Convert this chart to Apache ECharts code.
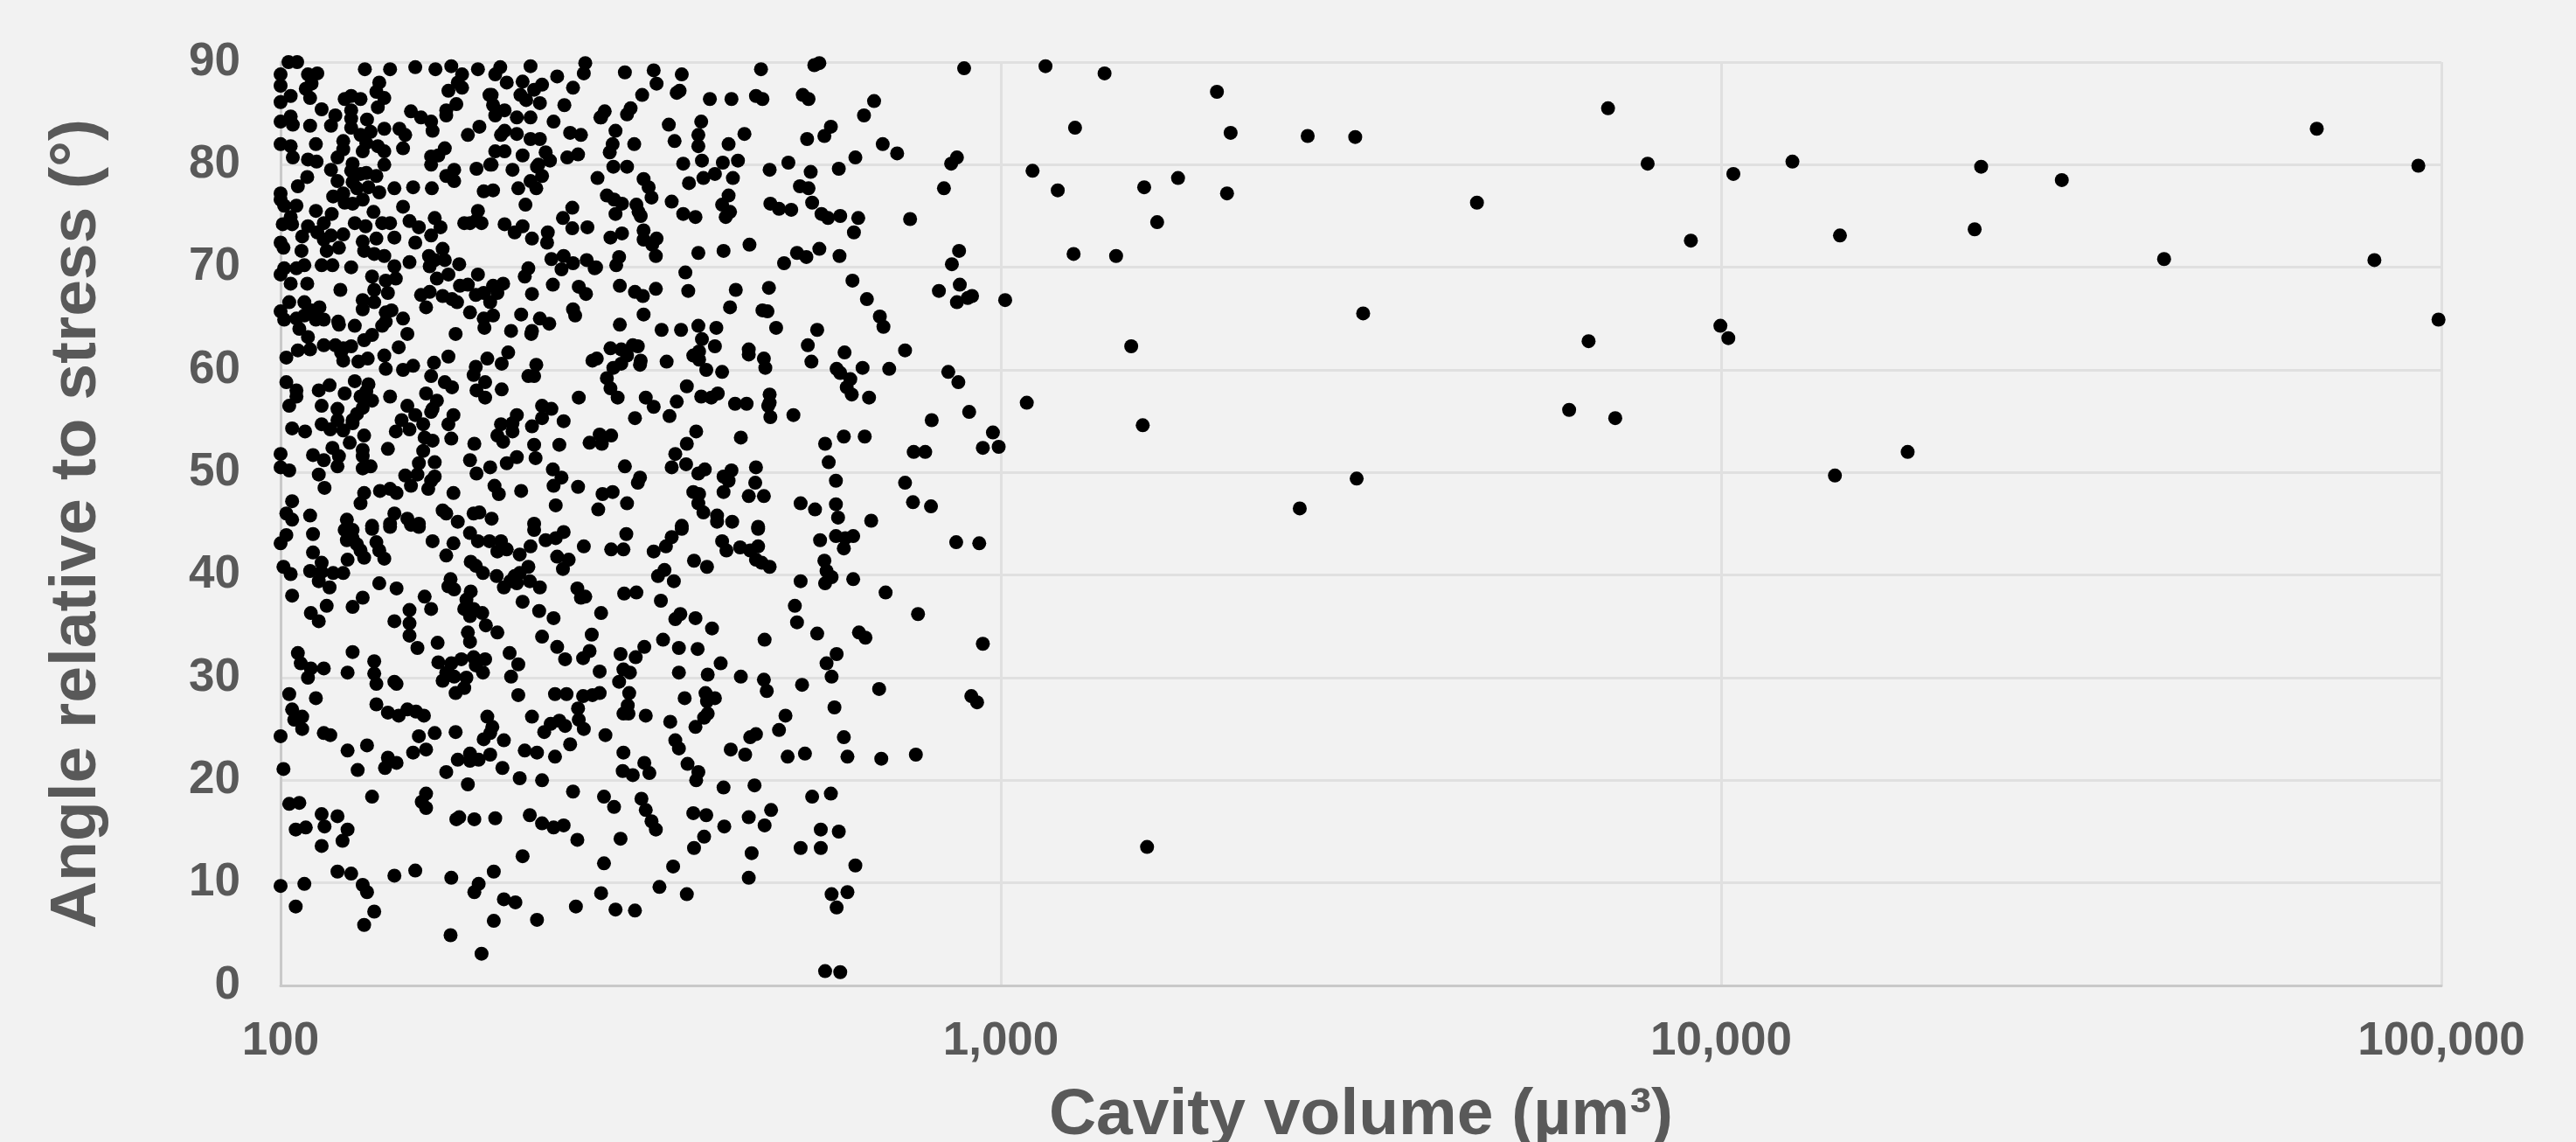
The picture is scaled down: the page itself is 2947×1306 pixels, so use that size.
<!DOCTYPE html>
<html><head><meta charset="utf-8">
<style>html,body{margin:0;padding:0;background:#f2f2f2}#c{width:2947px;height:1306px}</style>
<script src="https://cdn.jsdelivr.net/npm/echarts@6/dist/echarts.min.js"></script>
</head><body><div id="c"></div>
<script>
// Tick labels
const volumeTicks = [100, 1000, 10000, 100000];
const angleTicks = [0, 10, 20, 30, 40, 50, 60, 70, 80, 90];
// Cavities: [log10(volume in µm³), angle in degrees]
const angle80to90 = [[2.011,90],[2.023,90],[2,88.8],[2,87.7],[2.038,88.8],[2.051,88.9],[2.043,87.9],[2.117,89.3],[2.152,89.3],[2.187,89.5],[2.215,89.3],[2.237,89.6],[2.252,88.8],[2.274,89.3],[2.305,89.5],[2.298,88.8],[2.314,88],[2.336,88.1],[2.347,89.6],[2.384,88.6],[2.423,89.9],[2.421,88.9],[2.406,87.5],[2.137,88],[2.246,88],[2.252,87.5],[2.233,87.2],[2.363,87.8],[2.293,86.8],[2.352,87.3],[2.333,86.8],[2.341,86.3],[2.36,86],[2,86.1],[2.014,86.7],[2,84.2],[2.014,84.7],[2.017,83.9],[2.041,86.5],[2.035,87.4],[2.057,85.4],[2.076,84.8],[2.07,83.8],[2.041,83.8],[2.089,86.4],[2.098,86.7],[2.111,86.4],[2.098,85.3],[2.098,84.5],[2.098,83.6],[2.12,84.4],[2.144,83.5],[2.133,87.1],[2.144,86.5],[2.135,85.6],[2.181,85.2],[2.195,84.6],[2.209,84.2],[2.211,83.3],[2.23,84.8],[2.244,85.9],[2.23,85.3],[2.165,83.5],[2.173,82.9],[2.17,81.6],[2.26,82.9],[2.276,83.7],[2.29,86.8],[2.295,85.8],[2.298,84.8],[2.311,85.3],[2.328,84.6],[2.347,84.6],[2.379,84.2],[2.394,85.8],[2.444,84.6],[2.45,85.2],[2.306,82.9],[2.311,83.3],[2.328,83],[2.347,82.5],[2.36,82.5],[2.402,83.1],[2.417,82.9],[2,82],[2.014,81.8],[2.017,80.7],[2.049,82],[2.038,80.5],[2.05,80.3],[2.087,82.3],[2.087,81.5],[2.079,80.7],[2.111,82.9],[2.119,82.1],[2.114,81.3],[2.135,81.8],[2.144,81.3],[2.1,80.1],[2.125,83.2],[2.209,80.8],[2.228,81.6],[2.219,80.9],[2.298,81.3],[2.311,81.3],[2.336,80.9],[2.368,81.2],[2.374,80.4],[2.398,80.7],[2.413,81],[2.209,80],[2.293,80],[2.358,80],
[2.478,89],[2.518,89.2],[2.557,88.8],[2.522,87.9],[2.667,89.3],[2.741,89.7],[2.748,89.9],[2.949,89.4],[2.502,86.8],[2.55,87],[2.554,87.2],[2.596,86.4],[2.626,86.4],[2.66,86.7],[2.669,86.4],[2.725,86.8],[2.733,86.4],[2.824,86.2],[2.81,84.8],[2.445,84.6],[2.486,85.5],[2.481,84.9],[2.539,83.9],[2.584,84.2],[2.764,83.7],[2.755,82.8],[2.731,82.5],[2.465,83.3],[2.58,82.9],[2.58,81.8],[2.547,82.3],[2.644,83],[2.622,82],[2.461,82],[2.457,81.2],[2.491,82],[2.836,82],[2.856,81.1],[2.798,80.7],[2.939,80.7],[2.931,80.1],[2.559,80.1],[2.585,80.4],[2.614,80.2],[2.635,80.4],[2.705,80.2]];
const angle70to80 = [[2.462,79.8],[2.481,79.8],[2.679,79.5],[2.736,79.3],[2.775,79.6],[2.44,78.7],[2.504,78.6],[2.511,77.8],[2.515,76.8],[2.567,78.2],[2.587,78.7],[2.603,79.1],[2.628,78.7],[2.721,77.9],[2.733,77.7],[2.921,77.7],[2.453,77],[2.463,76.6],[2.474,76.2],[2.465,75.2],[2.494,76.1],[2.497,75.4],[2.5,75],[2.543,76.4],[2.559,75.2],[2.576,74.9],[2.622,77],[2.613,76.1],[2.624,75.4],[2.618,74.9],[2.68,76.2],[2.692,75.7],[2.709,75.6],[2.738,76.3],[2.751,75.2],[2.76,74.8],[2.777,75],[2.802,74.8],[2.874,74.7],[2.796,73.4],[2.504,73.6],[2.504,72.7],[2.522,72.8],[2.516,72.2],[2.521,71.1],[2.458,72.9],[2.474,73.3],[2.47,71],[2.466,70.2],[2.58,71.4],[2.615,71.6],[2.651,72.2],[2.717,71.4],[2.73,71],[2.748,71.8],[2.776,71.1],[2.699,70.4],[2.942,71.6],[2.932,70.3],[2.438,70],
[2.037,78.8],[2.024,77.9],[2,77.2],[2,76.6],[2.005,76],[2.022,76],[2.049,75.5],[2.071,75.2],[2.079,78.4],[2.073,76.9],[2.087,77.2],[2.089,76.3],[2.1,76.2],[2.114,76.6],[2.122,77.8],[2.133,78.9],[2.119,79.2],[2.098,79.4],[2.111,79.1],[2.144,80],[2.1,78.3],[2.106,77.7],[2.07,79.5],[2.137,77.3],[2.158,77.7],[2.184,77.8],[2.21,77.7],[2.17,75.9],[2.129,75.4],[2.241,79.5],[2.23,78.9],[2.241,78.4],[2.272,79.6],[2.291,80],[2.322,79.5],[2.33,77.7],[2.347,78.4],[2.355,77.7],[2.363,78.9],[2.356,79.8],[2.282,77.4],[2.295,77.5],[2.34,76.1],[2.405,75.8],[2.392,74.8],[2.405,73.8],[2.426,73.9],[2.274,75.5],[2.263,74.3],[2.255,74.3],[2.279,74.3],[2.272,74.6],[2.311,74.2],[2.325,73.4],[2.336,74],[2.349,72.8],[2.371,73.4],[2.37,72.4],[2.214,74.8],[2.222,73.9],[2.179,74.5],[2.192,73.9],[2.141,74.3],[2.152,74.3],[2.103,74.3],[2.118,74],[2.003,74.2],[2.016,74.2],[2.038,74],[2.06,74.3],[2.014,74.9],[2.051,73.4],[2.03,73],[2.07,73.1],[2.087,73.2],[2.06,72.7],[2.081,71.9],[2.064,71.6],[2.158,72.9],[2.187,72.4],[2.209,73.1],[2.114,72.5],[2.133,72.8],[2.116,71.6],[2.13,71.3],[2.144,71.1],[2,72.4],[2.004,71.9],[2.029,71.6],[2.225,71.8],[2.206,71.1],[2.214,70.7],[2.228,70.7],[2.207,70.1],[2.179,70.5],[2.248,70.3],[2.376,70.8],[2.393,71.1],[2.406,70.4],[2.39,69.8],[2.425,70.7],[2.436,69.9],[2.033,70.2],[2.022,69.9],[2.005,69.9],[2,69.3],[2.057,70.2],[2.072,70.2],[2.098,70],[2.158,70.1],[2.344,69.9],[2.339,69.1],[2.274,69.3]];
const angle60to70 = [[2.562,69.5],[2.471,68.2],[2.492,67.6],[2.503,67.2],[2.521,67.9],[2.566,67.7],[2.632,67.8],[2.678,68],[2.794,68.7],[2.814,66.9],[2.943,68.3],[2.914,67.7],[2.939,66.6],[2.954,67],[2.96,67.2],[2.624,66.1],[2.669,65.8],[2.676,65.7],[2.504,65.4],[2.832,65.2],[2.837,64.2],[2.471,64.4],[2.529,63.9],[2.556,63.9],[2.58,64.3],[2.605,64.1],[2.688,64.1],[2.745,63.9],[2.585,63],[2.603,62.3],[2.65,62],[2.65,61.5],[2.458,62.1],[2.473,62],[2.489,62.4],[2.496,62.3],[2.481,61.4],[2.732,62.4],[2.783,61.7],[2.867,61.9],[2.581,61.8],[2.573,61.4],[2.581,61],[2.439,61.1],[2.5,60.9],[2.499,60.5],[2.536,60.8],[2.671,61.1],[2.673,60.2],[2.737,60.8],[2.473,60.6],[2.462,60.2],[2.772,60.1],[2.808,60.2],[2.845,60.1],[2.591,60],
[2.014,68.4],[2.037,68.4],[2.127,69.1],[2.146,68.7],[2.16,68.9],[2.13,67.8],[2.149,67.5],[2.083,67.8],[2.217,68.9],[2.233,69.3],[2.249,68.2],[2.26,68.3],[2.271,67.3],[2.282,67.5],[2.295,68.2],[2.309,68.4],[2.301,67.5],[2.291,66.6],[2.378,68.3],[2.414,68.1],[2.424,67.4],[2.349,67.4],[2.195,67.3],[2.207,67.6],[2.202,66.1],[2.225,67.2],[2.238,66.9],[2.245,66.6],[2.012,66.6],[2.033,66.6],[2.043,65.8],[2.054,66.1],[2.114,66.8],[2.13,66.6],[2.114,65.9],[2,65.7],[2.005,64.9],[2.022,65],[2.033,65.3],[2.049,64.9],[2.06,64.9],[2.026,64],[2.038,63.2],[2.08,64.7],[2.081,64.4],[2.103,64.3],[2.146,65.6],[2.154,65.8],[2.146,64.7],[2.141,64.3],[2.17,65],[2.176,63.5],[2.263,65.6],[2.295,65.3],[2.282,65],[2.283,64.1],[2.334,65.4],[2.36,65],[2.373,64.5],[2.406,65.9],[2.409,65.3],[2.243,63.5],[2.32,63.8],[2.349,63.8],[2.348,63.5],[2.116,62.9],[2.127,63.4],[2.06,62.4],[2.076,62.4],[2.098,62.3],[2.087,62.1],[2.084,61.7],[2.087,60.9],[2.024,61.9],[2.041,62],[2.008,61.2],[2.164,62.2],[2.233,61.3],[2.144,61.4],[2.146,60.1],[2.108,60.8],[2.121,61.1],[2.316,61.7],[2.307,60.6],[2.287,61.1],[2.213,60.7],[2.355,60.5],[2.271,60.3],[2.184,60.4],[2.17,60],[2.433,60.9]];
const angle50to60 = [[2.777,59.7],[2.613,59.8],[2.927,59.8],[2.941,58.8],[2.453,59.2],[2.458,58.2],[2.468,57.3],[2.564,58.4],[2.791,59.1],[2.786,58.3],[2.793,57.6],[2.817,57.3],[2.507,57.3],[2.518,56.4],[2.55,56.9],[2.584,57.4],[2.598,57.3],[2.607,57.7],[2.631,56.7],[2.647,56.7],[2.679,57.6],[2.679,56.8],[2.677,56.5],[2.68,55.4],[2.712,55.6],[2.492,55.3],[2.54,55.5],[2.904,55.1],[2.956,55.9],[2.577,54],[2.564,52.8],[2.639,53.4],[2.782,53.5],[2.811,53.5],[2.756,52.8],[2.989,53.9],[2.975,52.4],[2.997,52.5],[2.879,52],[2.895,52],[2.459,53.6],[2.443,53.7],[2.446,52.8],[2.548,51.8],[2.543,50.5],[2.563,50.8],[2.761,51],[2.478,50.6],[2.66,50.5],[2.589,50.3],[2.626,50.2],
[2.268,59.5],[2.344,59.4],[2.352,59.4],[2.008,58.8],[2.022,58],[2.022,57.4],[2.068,58.5],[2.053,58],[2.089,57.7],[2.103,58.9],[2.122,58.6],[2.119,57.9],[2.111,57.4],[2.127,57],[2.114,56.3],[2.106,55.7],[2.1,55.1],[2.152,57.4],[2.202,57.7],[2.209,59.4],[2.228,58.8],[2.238,58.3],[2.272,58],[2.284,58.8],[2.284,57.3],[2.307,58.1],[2.414,57.3],[2.012,56.5],[2.057,56.5],[2.079,56.2],[2.176,56.5],[2.217,57],[2.211,56.2],[2.209,55.9],[2.363,56.5],[2.376,56.2],[2.363,55.3],[2.349,54.5],[2.328,55.6],[2.322,54.8],[2.306,54.7],[2.322,54],[2.309,53],[2.301,53.6],[2.393,55],[2.24,55.6],[2.233,54.7],[2.168,55.1],[2.16,54],[2.179,54.2],[2.187,55.6],[2.198,54.7],[2.2,53.4],[2.211,53.1],[2.016,54.3],[2.034,54],[2.057,54.7],[2.069,54.2],[2.087,54.1],[2.079,55.1],[2.1,54.8],[2.116,53.6],[2.096,52.9],[2.237,53.3],[2.269,52.8],[2.429,52.9],[2.352,52.7],[2.387,52.7],[2.072,52.4],[2.114,52.2],[2.114,51.6],[2.149,52.3],[2.198,52.1],[2.045,51.7],[2.06,51.2],[2.081,51.6],[2.079,50.6],[2,51.8],[2,50.5],[2.012,50.2],[2.114,50.4],[2.125,50.6],[2.192,50.9],[2.214,51],[2.263,51.2],[2.291,50.5],[2.314,50.9],[2.328,51.5],[2.354,51.4],[2.378,50.3]];
const angle40to50 = [[2.58,49.9],[2.615,49.6],[2.622,49.2],[2.499,49.5],[2.496,49],[2.771,49.2],[2.659,49],[2.867,49],[2.573,48.1],[2.581,47.9],[2.615,48.1],[2.65,47.7],[2.671,47.7],[2.447,47.9],[2.461,48.1],[2.481,47],[2.441,46.4],[2.58,47],[2.587,46.1],[2.722,47],[2.742,46.4],[2.771,46.9],[2.878,47.1],[2.903,46.7],[2.606,45.8],[2.627,45.2],[2.606,45.2],[2.774,45.6],[2.82,45.3],[2.557,44.8],[2.663,44.7],
[2.39,49.5],[2.379,48.7],[2.053,49.8],[2.061,48.5],[2.272,49.9],[2.173,49.7],[2.19,49.8],[2.214,49.6],[2.209,49.2],[2.205,48.4],[2.181,48.7],[2.297,48.7],[2.303,47.9],[2.334,48.2],[2.413,48.6],[2.116,48],[2.111,47],[2.138,48.2],[2.152,48.4],[2.161,48],[2.24,48],[2.016,47.2],[2.008,46],[2.016,45.4],[2.041,45.8],[2.382,46.8],[2.225,46.3],[2.23,46],[2.268,46],[2.276,46.1],[2.293,45.5],[2.246,45.2],[2.158,46],[2.176,45.5],[2.192,45],[2.092,45.4],[2.152,45],[2.127,44.8],[2.352,45],
[2.48,44],[2.459,42.5],[2.476,42.5],[2.518,42.3],[2.535,42.8],[2.543,43.7],[2.557,44.5],[2.613,43.3],[2.619,42.4],[2.638,42.7],[2.652,42.4],[2.663,42.8],[2.663,44.5],[2.749,43.4],[2.771,43.8],[2.784,43.6],[2.795,43.8],[2.782,42.6],[2.938,43.2],[2.97,43.1],[2.574,41.4],[2.592,40.8],[2.66,41.5],[2.668,41.2],[2.679,40.8],[2.755,41.4],[2.758,40.4],[2.533,40.5],
[2,43.1],[2.008,43.9],[2.045,44],[2.045,42.2],[2.089,44.4],[2.1,44.4],[2.092,43.4],[2.1,43.6],[2.106,43],[2.111,42.4],[2.116,41.7],[2.093,41.5],[2.127,44.5],[2.133,43.2],[2.137,42.4],[2.144,41.6],[2.152,44.7],[2.181,44.9],[2.192,44.7],[2.211,43.3],[2.24,43.1],[2.23,41.9],[2.263,44.1],[2.274,43.3],[2.29,43.3],[2.306,43.3],[2.301,42.3],[2.314,42.5],[2.332,42],[2.347,42.8],[2.352,44.4],[2.368,43.4],[2.382,43.6],[2.393,44.2],[2.421,42.8],[2.384,41.8],[2.4,41.5],[2.392,40.6],[2.264,41.3],[2.271,40.9],[2.281,40.2],[2.344,40.8],[2.332,40.2],[2.004,40.8],[2.014,40.1],[2.041,40.4],[2.057,41.2],[2.057,40.3],[2.073,40.2],[2.087,40.2]];
const angle30to40 = [[2.765,39.8],[2.756,39.2],[2.524,39.9],[2.546,39.4],[2.722,39.4],[2.795,39.6],[2.477,38.2],[2.494,38.3],[2.84,38.3],[2.528,37.5],[2.714,37],[2.717,35.4],[2.745,34.3],[2.885,36.2],[2.445,36.3],[2.555,36.2],[2.548,35.7],[2.576,35.8],[2.599,34.8],[2.803,34.4],[2.812,33.9],[2.672,33.7],[2.531,33.7],[2.553,32.9],[2.579,32.8],[2.975,33.3],[2.505,33],[2.493,32],[2.472,32.3],[2.772,32.3],[2.758,31.4],[2.611,31.4],[2.476,30.8],[2.485,30.5],[2.443,30.6],[2.553,30.5],[2.593,30.3],[2.639,30.1],[2.765,30.1],
[2.3,39.9],[2.325,39.9],[2.346,39.4],[2.36,38.8],[2.31,38.8],[2.319,39.4],[2.328,39.2],[2.053,39.4],[2.068,38.8],[2.016,38],[2.137,39.2],[2.161,38.7],[2.114,37.8],[2.1,36.9],[2.064,37],[2.236,39.6],[2.233,38.9],[2.241,38.6],[2.264,38.4],[2.2,37.9],[2.209,36.7],[2.258,37.6],[2.255,36.7],[2.268,36.7],[2.263,36],[2.28,36.3],[2.285,35.1],[2.412,38.7],[2.417,37.8],[2.423,37.9],[2.336,37.4],[2.359,36.5],[2.379,35.8],[2.042,36.3],[2.053,35.5],[2.158,35.5],[2.179,36.6],[2.179,35.3],[2.179,34.1],[2.19,32.9],[2.218,33.4],[2.26,34.4],[2.263,33.5],[2.301,34.4],[2.363,34],[2.384,33],[2.395,31.8],[2.432,34.2],[2.429,32.6],[2.42,31.9],[2.024,32.4],[2.028,31.4],[2.042,30.9],[2.038,30],[2.06,30.9],[2.1,32.5],[2.093,30.5],[2.13,31.6],[2.13,30.4],[2.219,31.5],[2.237,31.4],[2.251,31.8],[2.268,32],[2.284,31.8],[2.271,31.2],[2.281,30.5],[2.23,30.5],[2.241,30.1],[2.258,30],[2.318,32.4],[2.33,31.3],[2.32,30.1]];
const angle20to30 = [[2.671,29.8],[2.47,29.6],[2.724,29.3],[2.675,28.7],[2.831,28.9],[2.443,28.5],[2.484,28.5],[2.59,28.5],[2.561,28],[2.603,28],[2.592,27.7],[2.959,28.2],[2.967,27.6],[2.769,27.1],[2.482,27.3],[2.476,26.5],[2.483,26.5],[2.507,26.3],[2.593,26.5],[2.588,26.1],[2.701,26.3],[2.541,25.7],[2.576,25.2],[2.692,24.9],[2.66,24.5],[2.652,24.2],[2.451,24.4],[2.782,24.2],[2.548,23.9],[2.553,23.1],[2.625,23],[2.645,22.5],[2.704,22.3],[2.728,22.6],[2.787,22.3],[2.834,22.1],[2.882,22.5],[2.476,22.7],[2.505,21.7],[2.512,20.7],[2.475,20.9],[2.489,20.5],[2.565,21.6],[2.58,20.8],[2.577,20],
[2.133,29.4],[2.158,29.6],[2.161,29.4],[2.225,29.7],[2.255,29],[2.243,28.5],[2.012,28.4],[2.049,28],[2.33,28.3],[2.381,28.4],[2.397,28.4],[2.42,28.2],[2.433,28.3],[2.016,26.9],[2.03,26.2],[2.019,25.9],[2.03,25],[2.133,27.4],[2.149,26.6],[2.164,26.3],[2.176,26.9],[2.188,26.7],[2.199,26.3],[2.287,26.2],[2.294,25.2],[2.291,24.6],[2.282,24],[2.31,23.9],[2.349,26.2],[2.413,27],[2.414,25.9],[2.387,25.8],[2.375,25.5],[2.395,25.3],[2.421,25],[2.366,24.7],[2,24.3],[2.06,24.6],[2.069,24.4],[2.192,24.3],[2.214,24.6],[2.243,24.7],[2.12,23.4],[2.093,22.9],[2.402,23.5],[2.184,22.7],[2.202,23],[2.339,22.9],[2.356,22.7],[2.149,22.2],[2.145,21.2],[2.161,21.7],[2.246,22],[2.263,22.6],[2.263,21.9],[2.275,22],[2.291,22.5],[2.381,22.3],[2.004,21.1],[2.107,21],[2.23,20.8],[2.308,21.2],[2.332,20.2],[2.363,20]];
const angle0to20 = [[2.615,19.3],[2.658,19.5],[2.738,18.4],[2.764,18.7],[2.449,18.4],[2.463,17.4],[2.501,18.2],[2.507,17.1],[2.515,16],[2.521,15.2],[2.573,16.8],[2.591,16.6],[2.65,16.4],[2.672,15.6],[2.681,17.1],[2.616,15.5],[2.75,15.2],[2.775,15],[2.472,14.3],[2.588,14.5],[2.574,13.4],[2.654,12.9],[2.722,13.4],[2.75,13.4],[2.798,11.7],[2.449,11.9],[2.545,11.6],[2.65,10.5],[2.526,9.6],[2.564,8.9],[2.445,9],[2.787,9.1],[2.765,8.9],[2.772,7.6],[2.465,7.4],[2.492,7.3],[2.756,1.4],[2.777,1.3],
[2.26,19.6],[2.406,18.9],[2.127,18.4],[2.202,18.7],[2.196,17.9],[2.202,17.3],[2.012,17.7],[2.026,17.8],[2.057,16.7],[2.079,16.5],[2.244,16.2],[2.248,16.4],[2.269,16.2],[2.298,16.3],[2.346,16.6],[2.363,15.8],[2.379,15.4],[2.393,15.6],[2.021,15.2],[2.035,15.4],[2.061,15.5],[2.093,15.2],[2.412,14.2],[2.057,13.6],[2.086,14.1],[2.336,12.6],[2.079,11.1],[2.098,10.9],[2.158,10.7],[2.187,11.2],[2.237,10.5],[2.296,11.1],[2.275,9.9],[2.269,9.1],[2,9.7],[2.033,9.9],[2.114,9.8],[2.12,9.1],[2.31,8.4],[2.326,8.1],[2.021,7.7],[2.13,7.2],[2.41,7.7],[2.296,6.3],[2.356,6.4],[2.116,5.9],[2.236,4.9],[2.279,3.1]];
const largeCavities = [[3.062,89.6],[3.144,88.9],[3.103,83.6],[3.044,79.4],[3.079,77.5],[3.199,77.8],[3.246,78.7],[3.217,74.4],[3.101,71.3],[3.16,71.1],[3.006,66.8],[3.181,62.3],[3.036,56.8],[3.197,54.6],[3.3,87.1],[3.319,83.1],[3.314,77.2],[3.426,82.8],[3.492,82.7],[3.503,65.5],[3.415,46.5],[3.494,49.4],[3.661,76.3],[3.843,85.5],[3.898,80.1],[3.958,72.6],[3.816,62.8],[3.999,64.3],[4.01,63.1],[3.789,56.1],[3.853,55.3],[4.017,79.1],[4.099,80.3],[4.165,73.1],[4.158,49.7],[4.259,52],[4.361,79.8],[4.352,73.7],[4.473,78.5],[4.615,70.8],[4.827,83.5],[4.968,79.9],[4.907,70.7],[4.996,64.9],[3.203,13.5]];

const cavities = [angle80to90, angle70to80, angle60to70, angle50to60, angle40to50, angle30to40, angle20to30, angle0to20, largeCavities]
  .flat().map(([logV, angle]) => [Math.pow(10, logV), angle]);

const ink = '#595959', font = 'Liberation Sans';
const chart = echarts.init(document.getElementById('c'), null, {renderer: 'canvas'});
chart.setOption({
  animation: false,
  backgroundColor: '#f2f2f2',
  grid: {left: 321, right: 154, top: 71, bottom: 179, containLabel: false, outerBoundsMode: 'none'},
  xAxis: {
    type: 'log', logBase: 10, min: volumeTicks[0], max: volumeTicks[volumeTicks.length - 1],
    name: 'Cavity volume (µm³)', nameLocation: 'middle', nameGap: 112,
    nameTextStyle: {fontFamily: font, fontWeight: 'bold', fontSize: 75, color: ink},
    axisLine: {show: true, lineStyle: {color: '#c9c9c9', width: 3}},
    axisTick: {show: false}, minorTick: {show: false},
    axisLabel: {fontFamily: font, fontWeight: 'bold', fontSize: 53, color: ink, margin: 38,
      showMinLabel: true, showMaxLabel: true, hideOverlap: false,
      formatter: v => Math.round(v).toLocaleString('en-US')},
    splitLine: {show: true, lineStyle: {color: '#e0e0e0', width: 3}}
  },
  yAxis: {
    type: 'value', min: angleTicks[0], max: angleTicks[angleTicks.length - 1], interval: 10,
    name: 'Angle relative to stress (°)', nameLocation: 'middle', nameGap: 195, nameRotate: 90,
    nameTextStyle: {fontFamily: font, fontWeight: 'bold', fontSize: 75, color: ink},
    axisLine: {show: true, onZero: false, lineStyle: {color: '#c9c9c9', width: 3}},
    axisTick: {show: false},
    axisLabel: {fontFamily: font, fontWeight: 'bold', fontSize: 53, color: ink, margin: 46},
    splitLine: {show: true, lineStyle: {color: '#e0e0e0', width: 3}}
  },
  series: [{type: 'scatter', data: cavities, symbol: 'circle', symbolSize: 16, clip: false, z: 5,
    itemStyle: {color: '#000000', opacity: 1}}]
});
</script></body></html>
